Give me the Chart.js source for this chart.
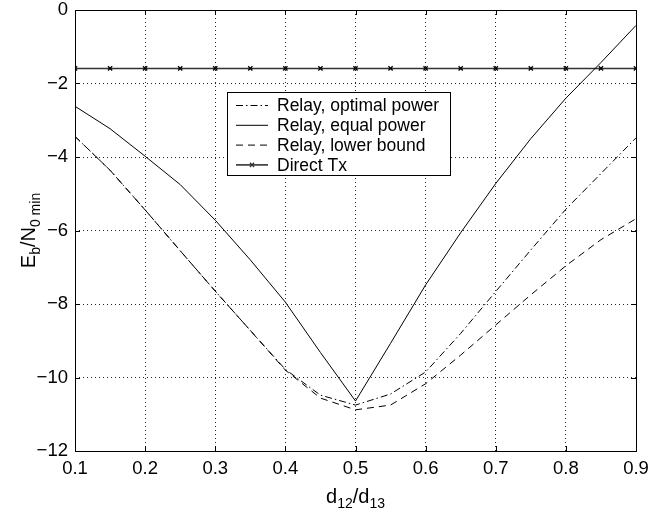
<!DOCTYPE html>
<html><head><meta charset="utf-8">
<script src="https://cdn.jsdelivr.net/npm/chart.js@4/dist/chart.umd.min.js"></script>
<style>html,body{margin:0;padding:0;background:#fff}#wrap{width:650px;height:523px;position:relative}</style>
</head><body><div id="wrap"><canvas id="c" width="650" height="523"></canvas></div>
<script>
// ---- data ----
const ratio        = [0.1,0.15,0.2,0.25,0.3,0.35,0.4,0.45,0.5,0.55,0.6,0.65,0.7,0.75,0.8,0.85,0.9];
const optimalPower = [-3.44,-4.36,-5.44,-6.55,-7.65,-8.72,-9.78,-10.48,-10.75,-10.45,-9.85,-8.80,-7.66,-6.53,-5.42,-4.45,-3.48];
const equalPower   = [-2.62,-3.23,-3.98,-4.75,-5.72,-6.80,-7.95,-9.32,-10.64,-9.07,-7.48,-6.06,-4.72,-3.50,-2.40,-1.43,-0.42];
const lowerBound   = [-3.44,-4.36,-5.44,-6.55,-7.65,-8.72,-9.80,-10.56,-10.88,-10.75,-10.17,-9.39,-8.57,-7.75,-6.96,-6.25,-5.68];
const directTx     = [-1.59,-1.59,-1.59,-1.59,-1.59,-1.59,-1.59,-1.59,-1.59,-1.59,-1.59,-1.59,-1.59,-1.59,-1.59,-1.59,-1.59];
const seriesNames  = ['Relay, optimal power','Relay, equal power','Relay, lower bound','Direct Tx'];
const xTickValues  = [0.1,0.2,0.3,0.4,0.5,0.6,0.7,0.8,0.9];
const yTickValues  = [0,-2,-4,-6,-8,-10,-12];

const FONT = "'Liberation Sans', Arial, Helvetica, sans-serif";
const pts = arr => ratio.map((x,i)=>({x:x, y:arr[i]}));
const noPad = s => { s.paddingLeft=0; s.paddingRight=0; s.paddingTop=0; s.paddingBottom=0; };

const frame = {
  id:'frame',
  afterDatasetsDraw(chart){
    const {ctx, chartArea:a, scales:{x,y}} = chart;
    ctx.save();
    ctx.strokeStyle='#000'; ctx.lineWidth=1; ctx.setLineDash([]);
    const L=5;
    ctx.beginPath();
    xTickValues.forEach(v=>{const p=Math.round(x.getPixelForValue(v))+0.5;
      ctx.moveTo(p,a.bottom); ctx.lineTo(p,a.bottom-L);
      ctx.moveTo(p,a.top); ctx.lineTo(p,a.top+L);});
    yTickValues.forEach(v=>{const p=Math.round(y.getPixelForValue(v))+0.5;
      ctx.moveTo(a.left,p); ctx.lineTo(a.left+L,p);
      ctx.moveTo(a.right,p); ctx.lineTo(a.right-L,p);});
    ctx.stroke();
    ctx.strokeRect(Math.round(a.left)+0.5, Math.round(a.top)+0.5, Math.round(a.right-a.left), Math.round(a.bottom-a.top));
    ctx.restore();
  },
  afterDraw(chart){
    const {ctx, chartArea:a} = chart;
    ctx.save();
    // legend
    const lx=227.5, ly=92.5, lw=223, lh=83;
    ctx.fillStyle='#fff'; ctx.fillRect(lx,ly,lw,lh);
    ctx.strokeStyle='#000'; ctx.lineWidth=1; ctx.strokeRect(lx,ly,lw,lh);
    ctx.font = '17.5px '+FONT; ctx.textBaseline='middle'; ctx.textAlign='left';
    chart.data.datasets.forEach((ds,i)=>{
      const cy = 105.5 + i*19.8;
      ctx.strokeStyle = ds.borderColor; ctx.lineWidth = ds.borderWidth;
      ctx.setLineDash(ds.borderDash || []);
      ctx.beginPath(); ctx.moveTo(236,cy); ctx.lineTo(268,cy); ctx.stroke();
      ctx.setLineDash([]);
      if (ds.pointRadius>0){
        const r=ds.pointRadius, c=252;
        ctx.lineWidth=ds.pointBorderWidth;
        ctx.beginPath(); ctx.moveTo(c-r*0.7,cy-r*0.7); ctx.lineTo(c+r*0.7,cy+r*0.7);
        ctx.moveTo(c-r*0.7,cy+r*0.7); ctx.lineTo(c+r*0.7,cy-r*0.7); ctx.stroke();
      }
      ctx.fillStyle='#000'; ctx.fillText(ds.label, 277, cy+1);
    });
    // x title: d12/d13
    ctx.textBaseline='alphabetic';
    const parts=[['d',20,0],['12',14,5],['/d',20,0],['13',14,5]];
    let tw=0; parts.forEach(p=>{ctx.font=p[1]+'px '+FONT; tw+=ctx.measureText(p[0]).width;});
    let px=(a.left+a.right)/2 - tw/2;
    parts.forEach(p=>{ctx.font=p[1]+'px '+FONT; ctx.fillText(p[0],px,503+p[2]); px+=ctx.measureText(p[0]).width;});
    // y title: Eb/N0 min
    const yp=[['E',20,0],['b',14,5],['/N',20,0],['0 min',14,5]];
    tw=0; yp.forEach(p=>{ctx.font=p[1]+'px '+FONT; tw+=ctx.measureText(p[0]).width;});
    ctx.translate(35,(a.top+a.bottom)/2); ctx.rotate(-Math.PI/2);
    px=-tw/2;
    yp.forEach(p=>{ctx.font=p[1]+'px '+FONT; ctx.fillText(p[0],px,p[2]); px+=ctx.measureText(p[0]).width;});
    ctx.restore();
  }
};

new Chart(document.getElementById('c'), {
  type:'line',
  data:{datasets:[
    {label:seriesNames[0], data:pts(optimalPower), borderColor:'#000', borderWidth:1, borderDash:[7,3,1.5,3], pointRadius:0, fill:false, tension:0},
    {label:seriesNames[1], data:pts(equalPower), borderColor:'#000', borderWidth:1, pointRadius:0, fill:false, tension:0},
    {label:seriesNames[2], data:pts(lowerBound), borderColor:'#000', borderWidth:1, borderDash:[7,5], pointRadius:0, fill:false, tension:0},
    {label:seriesNames[3], data:pts(directTx), borderColor:'#333', borderWidth:1.6, pointStyle:'crossRot', pointRadius:3, pointBorderWidth:1.3, pointBorderColor:'#000', fill:false, tension:0}
  ]},
  options:{
    responsive:false, animation:false, devicePixelRatio:1,
    layout:{padding:{top:10,right:14,left:0,bottom:0}},
    plugins:{legend:{display:false}, tooltip:{enabled:false}},
    elements:{line:{borderCapStyle:'butt'}},
    scales:{
      x:{type:'linear', min:0.1, max:0.9,
        afterBuildTicks:s=>{s.ticks=xTickValues.map(v=>({value:v}));},
        afterFit:s=>{s.height=72; noPad(s);},
        ticks:{font:{family:FONT,size:18.5}, color:'#000', padding:7, maxRotation:0, autoSkip:false, callback:v=>v.toFixed(1)},
        grid:{color:'rgba(0,0,0,0.85)', lineWidth:1, drawTicks:false},
        border:{display:false, dash:[1,3]}
      },
      y:{type:'linear', min:-12, max:0,
        afterBuildTicks:s=>{s.ticks=yTickValues.map(v=>({value:v}));},
        afterFit:s=>{s.width=75; noPad(s);},
        ticks:{font:{family:FONT,size:18.5}, color:'#000', padding:7, autoSkip:false, callback:v=>(v<0?'\u2212'+Math.abs(v):String(v))},
        grid:{color:'rgba(0,0,0,0.85)', lineWidth:1, drawTicks:false},
        border:{display:false, dash:[1,3]}
      }
    }
  },
  plugins:[frame]
});
</script></body></html>
